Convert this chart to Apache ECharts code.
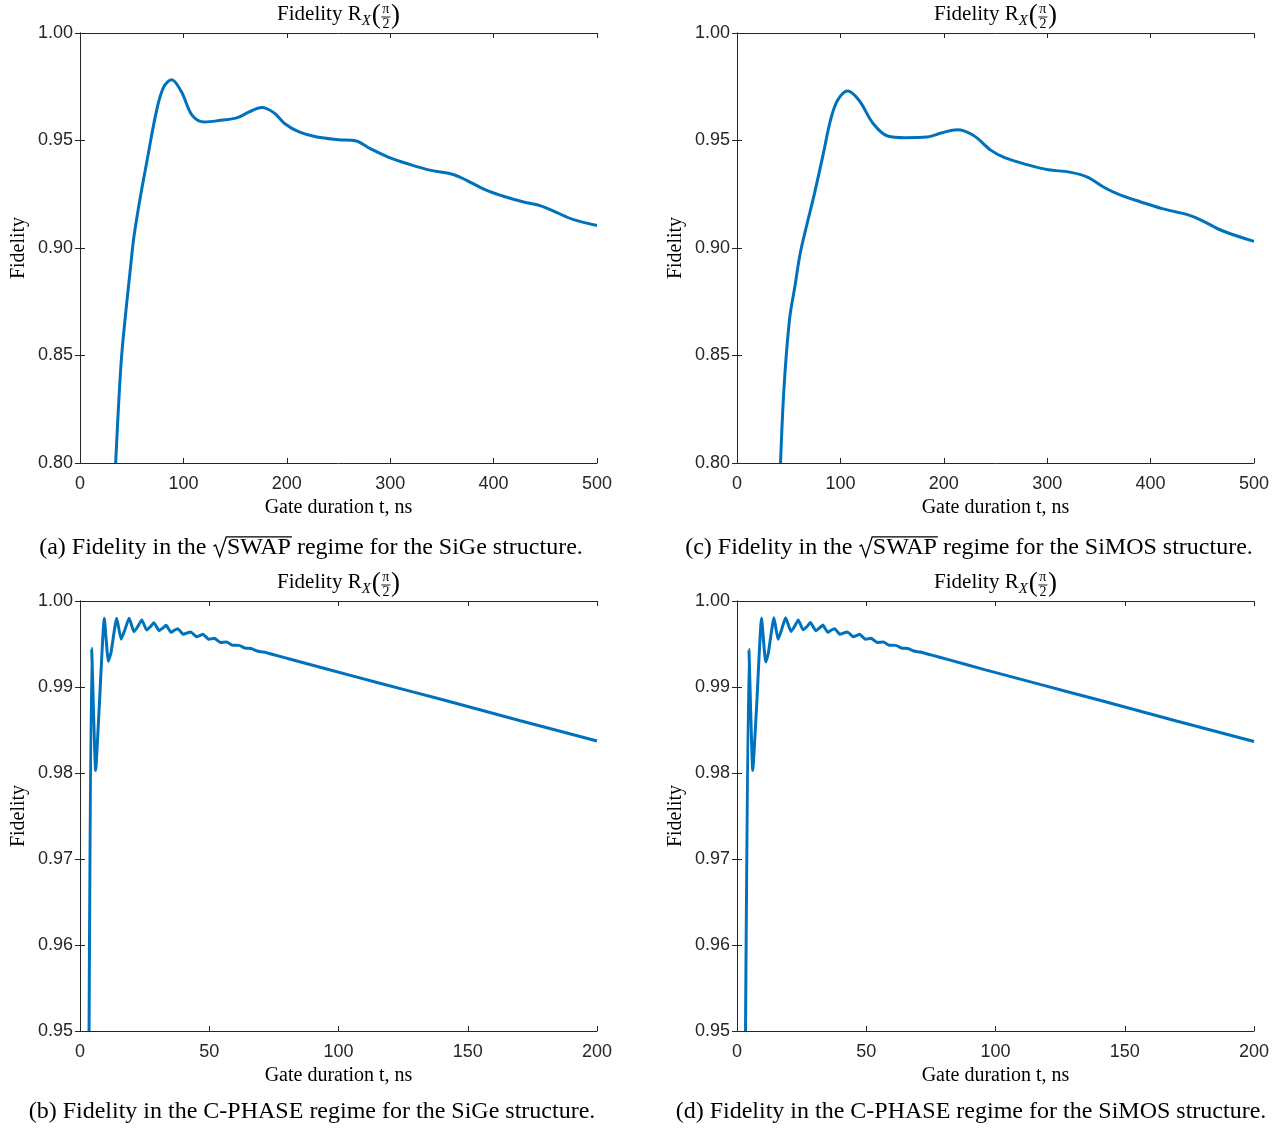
<!DOCTYPE html>
<html>
<head>
<meta charset="utf-8">
<title>Gate fidelity vs gate duration</title>
<script src="https://cdn.jsdelivr.net/npm/echarts@6/dist/echarts.min.js"></script>
<style>
  html, body { margin: 0; padding: 0; background: #fff; }
  #chart { width: 1282px; height: 1128px; }
</style>
</head>
<body>
<div id="chart"></div>
<script>
// ---- Data: fidelity of R_X(pi/2) vs gate duration t (ns) ----

// (a) sqrt(SWAP) regime, SiGe
const sigeSwapT = [34.5, 37.2, 40.3, 44.8, 48.2, 51.7, 55.1, 59.0, 63.7, 74.1, 81.0, 88.6, 98.2, 108.5, 120.6, 136.1, 151.6, 163.7, 175.7, 187.8, 198.1, 211.9, 229.2, 249.8, 267.0, 280.8, 298.0, 318.7, 339.4, 360.0, 373.9, 391.1, 411.8, 429.0, 446.3, 460.0, 477.3, 500.0];
const sigeSwapF = [0.800, 0.826, 0.850, 0.8726, 0.888, 0.9036, 0.9144, 0.9255, 0.9377, 0.964, 0.9749, 0.9783, 0.9726, 0.9617, 0.9586, 0.9594, 0.9605, 0.9633, 0.9653, 0.9628, 0.9578, 0.954, 0.9516, 0.9504, 0.9498, 0.9462, 0.9423, 0.9389, 0.9361, 0.9343, 0.9315, 0.9273, 0.9237, 0.9214, 0.9195, 0.9167, 0.9132, 0.9105];

// (c) sqrt(SWAP) regime, SiMOS
const simosSwapT = [42.1, 45.5, 50.7, 55.9, 61.1, 66.2, 74.9, 83.5, 90.4, 97.3, 107.0, 118.0, 131.8, 145.6, 162.9, 183.6, 197.4, 212.9, 228.5, 245.7, 259.5, 280.2, 300.9, 321.6, 338.9, 356.1, 369.9, 390.6, 411.3, 435.5, 449.3, 470.0, 500.0];
const simosSwapF = [0.800, 0.8353, 0.8664, 0.8819, 0.8974, 0.9082, 0.9253, 0.9439, 0.9594, 0.9687, 0.973, 0.9687, 0.9578, 0.9521, 0.9513, 0.9516, 0.9535, 0.955, 0.9524, 0.9454, 0.9419, 0.9388, 0.9364, 0.9353, 0.933, 0.9279, 0.9248, 0.9214, 0.9183, 0.9155, 0.9129, 0.9079, 0.9031];

// (b) C-PHASE regime, SiGe
const sigePhaseT = [3.5, 4.5, 6.06, 7.5, 9.4, 10.96, 12.0, 14.2, 15.9, 17.3, 19.0, 20.9, 22.3, 23.9, 25.8, 27.2, 28.6, 30.6, 32.0, 33.3, 35.2, 36.5, 37.8, 40.0, 41.4, 42.8, 45.1, 46.3, 47.5, 49.9, 51.0, 52.0, 54.3, 56.7, 59.0, 61.5, 63.8, 66.2, 68.5, 71.0, 75.0, 82.5, 95.4, 116.0, 140.0, 170.0, 200.0];
const sigePhaseF = [0.950, 0.9945, 0.9803, 0.9880, 0.9980, 0.9930, 0.9940, 0.9980, 0.99555, 0.9966, 0.9980, 0.99643, 0.9970, 0.9978, 0.99663, 0.9970, 0.99748, 0.99655, 0.99685, 0.99717, 0.99636, 0.9966, 0.99678, 0.99612, 0.99628, 0.9964, 0.99585, 0.99598, 0.99612, 0.99554, 0.99562, 0.99566, 0.99518, 0.99522, 0.99485, 0.99484, 0.99452, 0.99447, 0.99418, 0.99406, 0.99375, 0.99314, 0.99209, 0.99043, 0.98854, 0.98610, 0.98372];

// (d) C-PHASE regime, SiMOS
const simosPhaseT = [3.3, 4.6, 6.1, 7.6, 9.5, 11.1, 12.1, 14.3, 15.9, 17.2, 18.8, 20.9, 22.2, 23.7, 25.6, 27.0, 28.4, 30.5, 31.9, 33.2, 35.1, 36.4, 37.7, 39.9, 41.3, 42.7, 45.0, 46.2, 47.4, 49.8, 50.9, 51.9, 54.2, 56.6, 58.9, 61.4, 63.7, 66.1, 68.4, 70.9, 75.0, 82.5, 95.4, 117.2, 140.0, 170.0, 200.0];
const simosPhaseF = [0.950, 0.9944, 0.9803, 0.9878, 0.9980, 0.9929, 0.9939, 0.99805, 0.99555, 0.9966, 0.99805, 0.99645, 0.9970, 0.9978, 0.99665, 0.9970, 0.9975, 0.99655, 0.99685, 0.9972, 0.99636, 0.9966, 0.99678, 0.99612, 0.99628, 0.9964, 0.99585, 0.99598, 0.99612, 0.99554, 0.99562, 0.99566, 0.99518, 0.99522, 0.99485, 0.99484, 0.99452, 0.99447, 0.99418, 0.99406, 0.99373, 0.99312, 0.99205, 0.99030, 0.98848, 0.98604, 0.98366];

// Axis ranges
const swapXTicks = { min: 0, max: 500, interval: 100 };
const swapYTicks = { min: 0.80, max: 1.00, interval: 0.05 };
const phaseXTicks = { min: 0, max: 200, interval: 50 };
const phaseYTicks = { min: 0.95, max: 1.00, interval: 0.01 };

// Text
const plotTitle = 'Fidelity R';
const xName = 'Gate duration t, ns';
const yName = 'Fidelity';
const captions = [
  { pre: '(a) Fidelity in the ', rad: 'SWAP', post: ' regime for the SiGe structure.' },
  { pre: '(c) Fidelity in the ', rad: 'SWAP', post: ' regime for the SiMOS structure.' },
  { pre: '(b) Fidelity in the C-PHASE regime for the SiGe structure.', rad: '', post: '' },
  { pre: '(d) Fidelity in the C-PHASE regime for the SiMOS structure.', rad: '', post: '' }
];

// ---- Layout & styling ----
const SERIF = '"Liberation Serif", "Times New Roman", serif';
const SANS = '"Liberation Sans", Arial, Helvetica, sans-serif';
const AXIS_COLOR = '#262626';
const LINE_COLOR = '#0072BD';

const pairs = (t, f) => t.map((v, i) => [v, f[i]]);

const panels = [
  { left: 80,  top: 33,  xr: swapXTicks,  yr: swapYTicks,  data: pairs(sigeSwapT, sigeSwapF),   smooth: 0.35, cap: captions[0], capX: 311, capBase: 556 },
  { left: 737, top: 33,  xr: swapXTicks,  yr: swapYTicks,  data: pairs(simosSwapT, simosSwapF), smooth: 0.35, cap: captions[1], capX: 969, capBase: 556 },
  { left: 80,  top: 601, xr: phaseXTicks, yr: phaseYTicks, data: pairs(sigePhaseT, sigePhaseF),   smooth: 0.15, cap: captions[2], capX: 312, capBase: 1120 },
  { left: 737, top: 601, xr: phaseXTicks, yr: phaseYTicks, data: pairs(simosPhaseT, simosPhaseF), smooth: 0.15, cap: captions[3], capX: 971, capBase: 1120 }
];
const GW = 517, GH = 430;

// text measuring for composed labels
const mctx = document.createElement('canvas').getContext('2d');
function tw(str, font) { mctx.font = font; return mctx.measureText(str).width; }

function textEl(str, x, base, size, font, align) {
  const a = align || 'left';
  return {
    type: 'text', silent: true, x: x, y: base - 0.3375 * size,
    style: { text: str, font: font, fill: '#000', align: a, textAlign: a, verticalAlign: 'middle', textVerticalAlign: 'middle' }
  };
}

// "Fidelity R_X(pi/2)"
function titleEls(cx, base) {
  const sMain = 21, sSub = 15, sPar = 27, sFrac = 14;
  const fMain = sMain + 'px ' + SERIF, fSub = 'italic ' + sSub + 'px ' + SERIF;
  const fPar = sPar + 'px ' + SERIF, fFrac = sFrac + 'px ' + SERIF;
  const w1 = tw(plotTitle, fMain), w2 = tw('X', fSub), wp = tw('(', fPar);
  const wf = Math.max(tw('π', fFrac), tw('2', fFrac)) + 3;
  const total = w1 + w2 + 1 + wp + wf + wp;
  let x = cx - total / 2;
  const els = [];
  els.push(textEl(plotTitle, x, base, sMain, fMain)); x += w1;
  els.push(textEl('X', x, base + 4, sSub, fSub)); x += w2 + 1;
  els.push(textEl('(', x, base + 3, sPar, fPar)); x += wp;
  els.push(textEl('π', x + wf / 2, base - 8, sFrac, fFrac, 'center'));
  els.push({ type: 'line', silent: true, shape: { x1: x + 0.5, y1: base - 5, x2: x + wf - 0.5, y2: base - 5 }, style: { stroke: '#000', lineWidth: 0.9 } });
  els.push(textEl('2', x + wf / 2, base + 7, sFrac, fFrac, 'center')); x += wf;
  els.push(textEl(')', x, base + 3, sPar, fPar));
  return els;
}

// sub-figure caption, optionally with a sqrt over a word
function captionEls(cx, base, cap) {
  const size = 24, font = size + 'px ' + SERIF;
  const w1 = tw(cap.pre, font);
  const wr = cap.rad ? 0.6 * size : 0;
  const w2 = cap.rad ? tw(cap.rad, font) : 0;
  const w3 = cap.post ? tw(cap.post, font) : 0;
  const x0 = cx - (w1 + wr + w2 + w3) / 2;
  const els = [textEl(cap.pre, x0, base, size, font)];
  if (cap.rad) {
    const xr = x0 + w1 + 1, top = base - 0.80 * size;
    els.push({
      type: 'polyline', silent: true,
      shape: { points: [[xr, base - 0.40 * size], [xr + 0.09 * size, base - 0.46 * size], [xr + 0.26 * size, base + 0.03 * size], [xr + 0.53 * size, top], [x0 + w1 + wr + w2 + 1, top]] },
      style: { stroke: '#000', lineWidth: 1.3, fill: null }
    });
    els.push(textEl(cap.rad, x0 + w1 + wr, base, size, font));
    els.push(textEl(cap.post, x0 + w1 + wr + w2, base, size, font));
  }
  return els;
}

const grid = [], xAxis = [], yAxis = [], series = [], graphic = [];

panels.forEach((p, i) => {
  grid.push({ left: p.left, top: p.top, width: GW, height: GH, containLabel: false });
  const line = { show: true, lineStyle: { color: AXIS_COLOR, width: 1 } };
  const tick = { show: true, inside: true, length: 5, lineStyle: { color: AXIS_COLOR, width: 1 } };
  xAxis.push({
    type: 'value', gridIndex: i, position: 'bottom', min: p.xr.min, max: p.xr.max, interval: p.xr.interval,
    axisLine: line, axisTick: tick, splitLine: { show: false },
    axisLabel: { color: AXIS_COLOR, fontFamily: SANS, fontSize: 18, margin: 12 },
    name: xName, nameLocation: 'middle', nameGap: 35,
    nameTextStyle: { color: '#000', fontFamily: SERIF, fontSize: 20 }
  });
  xAxis.push({
    type: 'value', gridIndex: i, position: 'top', min: p.xr.min, max: p.xr.max, interval: p.xr.interval,
    axisLine: line, axisTick: tick, splitLine: { show: false }, axisLabel: { show: false }
  });
  yAxis.push({
    type: 'value', gridIndex: i, position: 'left', min: p.yr.min, max: p.yr.max, interval: p.yr.interval,
    axisLine: line, axisTick: tick, splitLine: { show: false },
    axisLabel: { color: AXIS_COLOR, fontFamily: SANS, fontSize: 18, margin: 7, formatter: v => v.toFixed(2) },
    name: yName, nameLocation: 'middle', nameGap: 51,
    nameTextStyle: { color: '#000', fontFamily: SERIF, fontSize: 20 }
  });
  yAxis.push({
    type: 'value', gridIndex: i, position: 'right', min: p.yr.min, max: p.yr.max, interval: p.yr.interval,
    axisLine: line, axisTick: tick, splitLine: { show: false }, axisLabel: { show: false }
  });
  series.push({
    type: 'line', xAxisIndex: 2 * i, yAxisIndex: 2 * i, data: p.data,
    showSymbol: false, smooth: p.smooth, clip: true,
    lineStyle: { color: LINE_COLOR, width: 3 }
  });
  titleEls(p.left + GW / 2, p.top - 11).forEach(e => graphic.push(e));
  captionEls(p.capX, p.capBase, p.cap).forEach(e => graphic.push(e));
});

const chart = echarts.init(document.getElementById('chart'), null, { renderer: 'canvas' });
chart.setOption({
  backgroundColor: '#fff',
  animation: false,
  grid, xAxis, yAxis, series, graphic
});
</script>
</body>
</html>
